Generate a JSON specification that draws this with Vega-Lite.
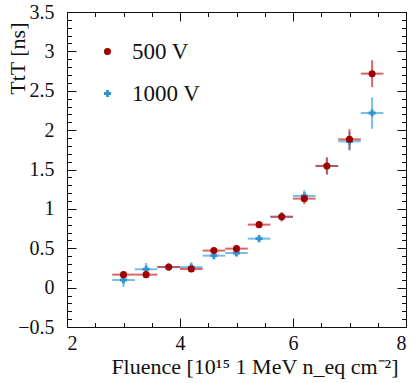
{
  "$schema": "https://vega.github.io/schema/vega-lite/v6.json",
  "width": 339,
  "height": 315,
  "autosize": {"type": "none"},
  "padding": {"left": 67, "top": 12, "right": 9, "bottom": 56},
  "background": "white",
  "config": {
    "view": {"stroke": null},
    "axis": {
      "labelFont": "Liberation Serif",
      "titleFont": "Liberation Serif",
      "labelFontSize": 20,
      "titleFontSize": 22,
      "titleFontWeight": "normal",
      "labelColor": "#111",
      "titleColor": "#111",
      "domainColor": "#111",
      "tickColor": "#111",
      "domainWidth": 1,
      "tickWidth": 1,
      "grid": false
    }
  },
  "data": {
    "values": [
      {"series": "1000 V", "fluence": 3.0, "ttt": 0.097, "ylo": 0.007, "yhi": 0.187, "xlo": 2.8, "xhi": 3.2},
      {"series": "1000 V", "fluence": 3.4, "ttt": 0.233, "ylo": 0.153, "yhi": 0.313, "xlo": 3.2, "xhi": 3.6},
      {"series": "1000 V", "fluence": 3.8, "ttt": 0.26, "ylo": 0.22, "yhi": 0.3, "xlo": 3.6, "xhi": 4.0},
      {"series": "1000 V", "fluence": 4.2, "ttt": 0.26, "ylo": 0.2, "yhi": 0.32, "xlo": 4.0, "xhi": 4.4},
      {"series": "1000 V", "fluence": 4.6, "ttt": 0.406, "ylo": 0.366, "yhi": 0.446, "xlo": 4.4, "xhi": 4.8},
      {"series": "1000 V", "fluence": 5.0, "ttt": 0.44, "ylo": 0.4, "yhi": 0.48, "xlo": 4.8, "xhi": 5.2},
      {"series": "1000 V", "fluence": 5.4, "ttt": 0.622, "ylo": 0.582, "yhi": 0.662, "xlo": 5.2, "xhi": 5.6},
      {"series": "1000 V", "fluence": 5.8, "ttt": 0.9, "ylo": 0.85, "yhi": 0.95, "xlo": 5.6, "xhi": 6.0},
      {"series": "1000 V", "fluence": 6.2, "ttt": 1.164, "ylo": 1.094, "yhi": 1.234, "xlo": 6.0, "xhi": 6.4},
      {"series": "1000 V", "fluence": 6.6, "ttt": 1.545, "ylo": 1.445, "yhi": 1.645, "xlo": 6.4, "xhi": 6.8},
      {"series": "1000 V", "fluence": 7.0, "ttt": 1.858, "ylo": 1.738, "yhi": 1.978, "xlo": 6.8, "xhi": 7.2},
      {"series": "1000 V", "fluence": 7.4, "ttt": 2.217, "ylo": 2.017, "yhi": 2.417, "xlo": 7.2, "xhi": 7.6},
      {"series": "500 V", "fluence": 3.0, "ttt": 0.165, "ylo": 0.125, "yhi": 0.205, "xlo": 2.8, "xhi": 3.2},
      {"series": "500 V", "fluence": 3.4, "ttt": 0.165, "ylo": 0.125, "yhi": 0.205, "xlo": 3.2, "xhi": 3.6},
      {"series": "500 V", "fluence": 3.8, "ttt": 0.262, "ylo": 0.232, "yhi": 0.292, "xlo": 3.6, "xhi": 4.0},
      {"series": "500 V", "fluence": 4.2, "ttt": 0.237, "ylo": 0.197, "yhi": 0.277, "xlo": 4.0, "xhi": 4.4},
      {"series": "500 V", "fluence": 4.6, "ttt": 0.47, "ylo": 0.43, "yhi": 0.51, "xlo": 4.4, "xhi": 4.8},
      {"series": "500 V", "fluence": 5.0, "ttt": 0.495, "ylo": 0.455, "yhi": 0.535, "xlo": 4.8, "xhi": 5.2},
      {"series": "500 V", "fluence": 5.4, "ttt": 0.8, "ylo": 0.76, "yhi": 0.84, "xlo": 5.2, "xhi": 5.6},
      {"series": "500 V", "fluence": 5.8, "ttt": 0.9, "ylo": 0.84, "yhi": 0.96, "xlo": 5.6, "xhi": 6.0},
      {"series": "500 V", "fluence": 6.2, "ttt": 1.13, "ylo": 1.06, "yhi": 1.2, "xlo": 6.0, "xhi": 6.4},
      {"series": "500 V", "fluence": 6.6, "ttt": 1.545, "ylo": 1.435, "yhi": 1.655, "xlo": 6.4, "xhi": 6.8},
      {"series": "500 V", "fluence": 7.0, "ttt": 1.883, "ylo": 1.753, "yhi": 2.013, "xlo": 6.8, "xhi": 7.2},
      {"series": "500 V", "fluence": 7.4, "ttt": 2.717, "ylo": 2.547, "yhi": 2.887, "xlo": 7.2, "xhi": 7.6}
    ]
  },
  "resolve": {"axis": {"x": "independent", "y": "independent"}},
  "layer": [
    {
      "transform": [{"filter": "datum.series === '1000 V'"}],
      "mark": {"type": "rule", "strokeWidth": 2, "opacity": 0.75, "color": "#4aa8dc"},
      "encoding": {
        "x": {"field": "xlo", "type": "quantitative", "scale": {"domain": [2, 8], "nice": false, "zero": false},
          "axis": {"orient": "bottom", "values": [2, 4, 6, 8], "tickSize": -9, "labelPadding": 15, "labelBaseline": "top",
            "title": "Fluence [10¹⁵ 1 MeV n_eq cm⁻²]", "titleAnchor": "end", "titleAlign": "right", "titleBaseline": "alphabetic", "titleX": 331, "titleY": 46}},
        "x2": {"field": "xhi"},
        "y": {"field": "ttt", "type": "quantitative", "scale": {"domain": [-0.5, 3.5], "nice": false, "zero": false},
          "axis": {"orient": "left", "values": [-0.5, 0, 0.5, 1, 1.5, 2, 2.5, 3, 3.5], "tickSize": -9, "labelPadding": 22,
            "labelExpr": "datum.value === 0 ? '0' : format(datum.value, '.2~f')",
            "title": "TtT [ns]", "titleAngle": -90, "titleAlign": "right", "titleBaseline": "middle", "titleX": -50, "titleY": 10}}
      }
    },
    {
      "transform": [{"filter": "datum.series === '1000 V'"}],
      "mark": {"type": "rule", "strokeWidth": 2, "opacity": 0.75, "color": "#4aa8dc"},
      "encoding": {
        "x": {"field": "fluence", "type": "quantitative", "scale": {"domain": [2, 8], "nice": false, "zero": false},
          "axis": {"orient": "bottom", "values": [2.5, 3, 3.5, 4.5, 5, 5.5, 6.5, 7, 7.5], "tickSize": -4.5, "labels": false, "title": null}},
        "y": {"field": "ylo", "type": "quantitative", "scale": {"domain": [-0.5, 3.5], "nice": false, "zero": false},
          "axis": {"orient": "left", "values": [-0.4, -0.3, -0.2, -0.1, 0.1, 0.2, 0.3, 0.4, 0.6, 0.7, 0.8, 0.9, 1.1, 1.2, 1.3, 1.4, 1.6, 1.7, 1.8, 1.9, 2.1, 2.2, 2.3, 2.4, 2.6, 2.7, 2.8, 2.9, 3.1, 3.2, 3.3, 3.4], "tickSize": -4.5, "labels": false, "title": null}},
        "y2": {"field": "yhi"}
      }
    },
    {
      "transform": [{"filter": "datum.series === '500 V'"}],
      "mark": {"type": "rule", "strokeWidth": 2, "opacity": 0.75, "color": "#cc3333"},
      "encoding": {
        "x": {"field": "xlo", "type": "quantitative", "scale": {"domain": [2, 8], "nice": false, "zero": false},
          "axis": {"orient": "top", "values": [2, 4, 6, 8], "tickSize": -9, "labels": false, "title": null}},
        "x2": {"field": "xhi"},
        "y": {"field": "ttt", "type": "quantitative", "scale": {"domain": [-0.5, 3.5], "nice": false, "zero": false},
          "axis": {"orient": "right", "values": [-0.5, 0, 0.5, 1, 1.5, 2, 2.5, 3, 3.5], "tickSize": -9, "labels": false, "title": null}}
      }
    },
    {
      "transform": [{"filter": "datum.series === '500 V'"}],
      "mark": {"type": "rule", "strokeWidth": 2, "opacity": 0.75, "color": "#cc3333"},
      "encoding": {
        "x": {"field": "fluence", "type": "quantitative", "scale": {"domain": [2, 8], "nice": false, "zero": false},
          "axis": {"orient": "top", "values": [2.5, 3, 3.5, 4.5, 5, 5.5, 6.5, 7, 7.5], "tickSize": -4.5, "labels": false, "title": null}},
        "y": {"field": "ylo", "type": "quantitative", "scale": {"domain": [-0.5, 3.5], "nice": false, "zero": false},
          "axis": {"orient": "right", "values": [-0.4, -0.3, -0.2, -0.1, 0.1, 0.2, 0.3, 0.4, 0.6, 0.7, 0.8, 0.9, 1.1, 1.2, 1.3, 1.4, 1.6, 1.7, 1.8, 1.9, 2.1, 2.2, 2.3, 2.4, 2.6, 2.7, 2.8, 2.9, 3.1, 3.2, 3.3, 3.4], "tickSize": -4.5, "labels": false, "title": null}},
        "y2": {"field": "yhi"}
      }
    },
    {
      "mark": {"type": "point", "filled": true, "opacity": 1, "size": 50},
      "encoding": {
        "x": {"field": "fluence", "type": "quantitative", "scale": {"domain": [2, 8], "nice": false, "zero": false}, "axis": null},
        "y": {"field": "ttt", "type": "quantitative", "scale": {"domain": [-0.5, 3.5], "nice": false, "zero": false}, "axis": null},
        "color": {"field": "series", "type": "nominal", "scale": {"domain": ["500 V", "1000 V"], "range": ["#a00000", "#2f93d3"]},
          "legend": {"orient": "none", "legendX": 29, "legendY": 28, "padding": 0, "title": null,
            "labelFont": "Liberation Serif", "labelFontSize": 23, "labelColor": "#111", "rowPadding": 18, "labelOffset": 13, "symbolSize": 50}},
        "shape": {"field": "series", "type": "nominal", "scale": {"domain": ["500 V", "1000 V"], "range": ["circle", "cross"]},
          "legend": {"orient": "none", "legendX": 29, "legendY": 28, "padding": 0, "title": null,
            "labelFont": "Liberation Serif", "labelFontSize": 23, "labelColor": "#111", "rowPadding": 18, "labelOffset": 13, "symbolSize": 50}}
      }
    }
  ]
}
